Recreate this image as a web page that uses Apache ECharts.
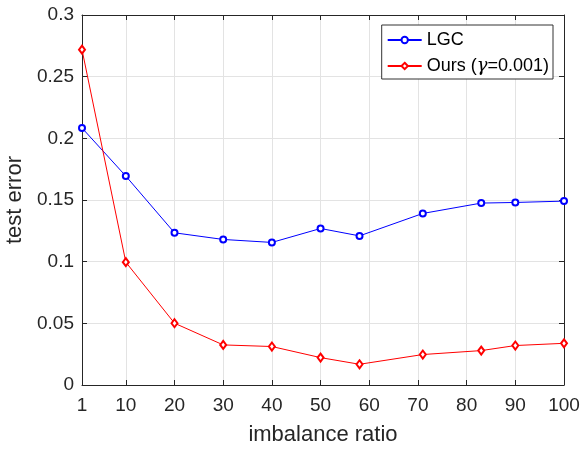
<!DOCTYPE html>
<html><head><meta charset="utf-8">
<script src="https://cdn.jsdelivr.net/npm/echarts@6/dist/echarts.min.js"></script>
<style>html,body{margin:0;padding:0;background:#fff}#c{width:582px;height:449px}</style>
</head><body><div id="c"></div>
<script>
const xValues = [1, 10, 20, 30, 40, 50, 58, 71, 83, 90, 100];
const xTicks = [1, 10, 20, 30, 40, 50, 60, 70, 80, 90, 100];
const lgc = [0.2084, 0.1694, 0.1234, 0.1180, 0.1156, 0.1269, 0.1209, 0.1391, 0.1475, 0.1480, 0.1491];
const ours = [0.2719, 0.0996, 0.0501, 0.0325, 0.0312, 0.0222, 0.0168, 0.0247, 0.0279, 0.0320, 0.0338];
const seriesNames = ['LGC', 'Ours (γ=0.001)'];

const font = 'Liberation Sans, Arial, Helvetica, sans-serif';
const axisCol = '#262626';
const chart = echarts.init(document.getElementById('c'), null, {renderer: 'canvas'});
const pairs = (ys) => xValues.map((x, i) => [x, ys[i]]);
chart.setOption({
  animation: false,
  backgroundColor: '#fff',
  grid: {left: 82, right: 18, top: 15, bottom: 64, containLabel: false, outerBoundsMode: 'none'},
  legend: {
    right: 29, top: 25,
    orient: 'vertical',
    backgroundColor: '#fff',
    borderColor: '#333',
    borderWidth: 1,
    padding: [6, 4, 4, 5],
    itemGap: 8,
    itemWidth: 34, itemHeight: 8,
    textStyle: {fontFamily: font, fontSize: 18, color: '#000',
      rich: {g: {fontFamily: 'DejaVu Serif', fontStyle: 'italic', fontSize: 18, color: '#000'}}},
    formatter: name => name.replace('γ', '{g|γ}'),
    data: seriesNames
  },
  xAxis: [{
    type: 'value', min: 1, max: 100, position: 'bottom',
    name: 'imbalance ratio', nameLocation: 'middle', nameGap: 39,
    nameTextStyle: {fontFamily: font, fontSize: 22, color: axisCol},
    axisLine: {show: true, onZero: false, lineStyle: {color: axisCol, width: 1}},
    axisTick: {show: true, inside: true, length: 5, customValues: xTicks, lineStyle: {color: axisCol}},
    axisLabel: {customValues: xTicks, fontFamily: font, fontSize: 19, color: axisCol, margin: 11},
    splitLine: {show: true, lineStyle: {color: '#e3e3e3', width: 1}}
  }, {
    type: 'value', min: 1, max: 100, position: 'top',
    axisLine: {show: true, onZero: false, lineStyle: {color: axisCol, width: 1}},
    axisTick: {show: true, inside: true, length: 5, customValues: xTicks, lineStyle: {color: axisCol}},
    axisLabel: {show: false},
    splitLine: {show: false}
  }],
  yAxis: [{
    type: 'value', min: 0, max: 0.3, interval: 0.05, position: 'left',
    name: 'test error', nameLocation: 'middle', nameGap: 52, nameRotate: 90,
    nameTextStyle: {fontFamily: font, fontSize: 22, color: axisCol},
    axisLine: {show: true, onZero: false, lineStyle: {color: axisCol, width: 1}},
    axisTick: {show: true, inside: true, length: 5, lineStyle: {color: axisCol}},
    axisLabel: {fontFamily: font, fontSize: 19, color: axisCol, margin: 8,
      formatter: v => String(Math.round(v * 100) / 100)},
    splitLine: {show: true, lineStyle: {color: '#e3e3e3', width: 1}}
  }, {
    type: 'value', min: 0, max: 0.3, interval: 0.05, position: 'right',
    axisLine: {show: true, onZero: false, lineStyle: {color: axisCol, width: 1}},
    axisTick: {show: true, inside: true, length: 5, lineStyle: {color: axisCol}},
    axisLabel: {show: false},
    splitLine: {show: false}
  }],
  series: [{
    name: seriesNames[0], type: 'line', xAxisIndex: 0, yAxisIndex: 0,
    data: pairs(lgc),
    symbol: 'emptyCircle', symbolSize: 6,
    lineStyle: {color: '#0000ff', width: 1},
    itemStyle: {color: '#0000ff', borderColor: '#0000ff', borderWidth: 1}
  }, {
    name: seriesNames[1], type: 'line', xAxisIndex: 0, yAxisIndex: 0,
    data: pairs(ours),
    symbol: 'emptyDiamond', symbolSize: [6, 8],
    lineStyle: {color: '#ff0000', width: 1},
    itemStyle: {color: '#ff0000', borderColor: '#ff0000', borderWidth: 1}
  }]
});
</script></body></html>
